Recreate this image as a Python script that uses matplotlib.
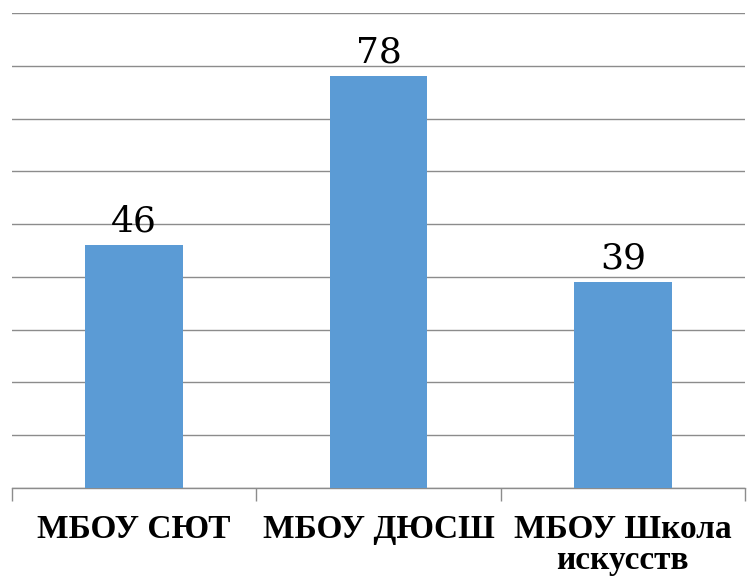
import numpy as np
import matplotlib
matplotlib.use('Agg')
import matplotlib.pyplot as plt

# Data
categories = ['МБОУ СЮТ', 'МБОУ ДЮСШ', 'МБОУ Школа\nискусств']
values = [46, 78, 39]
y_ticks = list(range(0, 100, 10))

bar_color = '#5B9BD5'
grid_color = '#8c8c8c'

fig = plt.figure(figsize=(7.47, 5.77), dpi=100)
ax = fig.add_axes([12 / 747, 1 - 488 / 577, (745 - 12) / 747, (488 - 13) / 577])

x = np.arange(len(categories))
bars = ax.bar(x, values, width=0.4, color=bar_color, zorder=3)

# Axis limits and grid
ax.set_xlim(-0.5, len(categories) - 0.5)
ax.set_ylim(0, 90)
ax.set_yticks(y_ticks)
ax.yaxis.grid(True, color=grid_color, linewidth=1.0, zorder=0)
ax.tick_params(axis='y', left=False, labelleft=False)

for side in ['top', 'right', 'left']:
    ax.spines[side].set_visible(False)
ax.spines['bottom'].set_color(grid_color)
ax.spines['bottom'].set_linewidth(1.0)

# Category boundary ticks and centred labels
ax.set_xticks(np.arange(-0.5, len(categories), 1.0))
ax.tick_params(axis='x', which='major', length=9, color=grid_color, width=1.0, labelbottom=False)
ax.set_xticks(x, minor=True)
ax.set_xticklabels(categories, minor=True, fontsize=24, fontweight='bold',
                   family='Liberation Serif', linespacing=0.98)
ax.tick_params(axis='x', which='minor', length=0, pad=19)

# Data labels
ax.bar_label(bars, labels=[str(v) for v in values], padding=5, fontsize=26,
             family='DejaVu Serif')

fig.savefig('out.png', dpi=100)
